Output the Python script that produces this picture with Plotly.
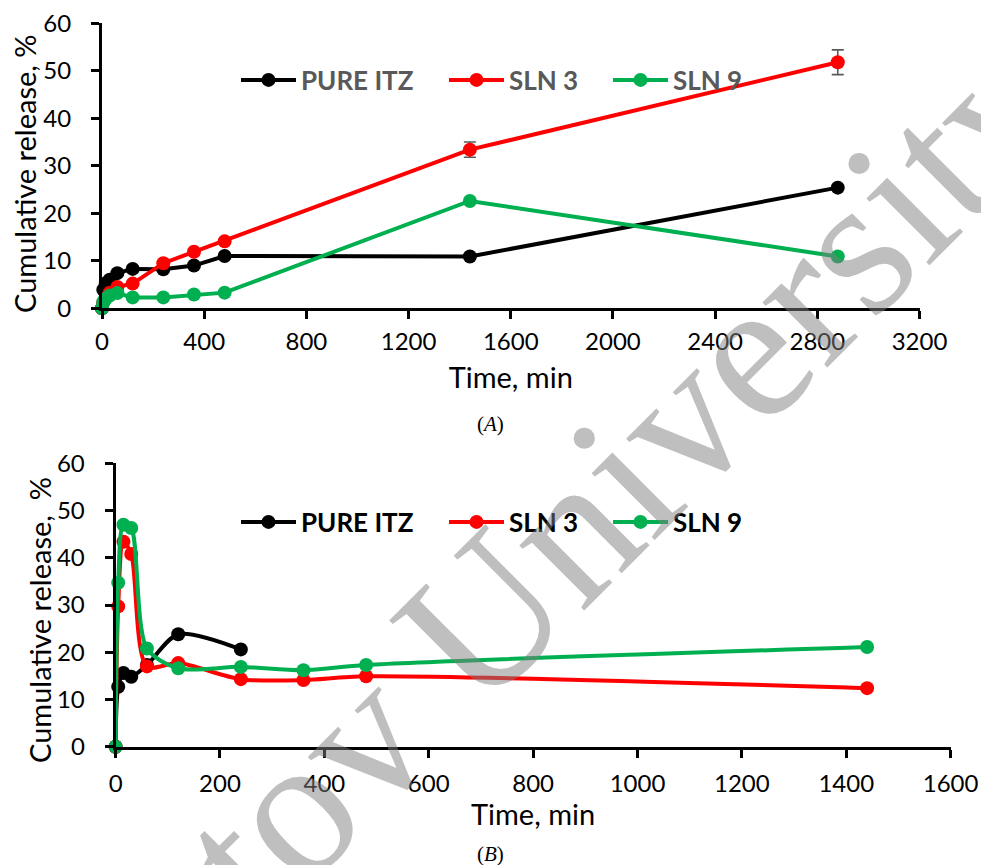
import plotly.graph_objects as go

# ---------------- data ----------------
# Panel A
time_a = [0, 5, 15, 30, 60, 120, 240, 360, 480, 1440, 2880]
pure_a = [0, 3.9, 5.3, 6.0, 7.4, 8.3, 8.2, 9.0, 11.0, 10.9, 25.4]
sln3_a = [0, 1.2, 2.2, 3.3, 4.5, 5.2, 9.5, 11.9, 14.1, 33.4, 51.8]
sln3_a_err = [0, 0, 0, 0, 0, 0, 0, 0, 0, 1.6, 2.6]
sln9_a = [0, 1.4, 2.0, 2.7, 3.2, 2.3, 2.3, 2.9, 3.3, 22.6, 10.9]

# Panel B
time_b = [0, 5, 15, 30, 60, 120, 240, 360, 480, 1440]
time_b_pure = [0, 5, 15, 30, 60, 120, 240]
pure_b = [0, 12.7, 15.6, 14.8, 17.3, 23.8, 20.6]
sln3_b = [0, 29.7, 43.4, 40.8, 17.0, 17.7, 14.3, 14.1, 14.9, 12.4]
sln9_b = [0, 34.7, 47.0, 46.3, 20.8, 16.6, 16.9, 16.2, 17.3, 21.1]

names = ["PURE ITZ", "SLN 3", "SLN 9"]
colors = ["#000000", "#FF0000", "#00B050"]

xticks_a = [0, 400, 800, 1200, 1600, 2000, 2400, 2800, 3200]
xticks_b = [0, 200, 400, 600, 800, 1000, 1200, 1400, 1600]
yticks = [0, 10, 20, 30, 40, 50, 60]

W, H = 981, 865
FONT = "Lato, 'Open Sans', sans-serif"

# legend item left positions (px) for each panel
leg_x_a = [236, 444, 608]
leg_x_b = [236, 444, 608]

fig = go.Figure()

# Panel A traces
for i, (nm, col, ys) in enumerate(zip(names, colors, [pure_a, sln3_a, sln9_a])):
    kw = {}
    if nm == "SLN 3":
        kw["error_y"] = dict(type="data", array=sln3_a_err, visible=True,
                             color="#595959", thickness=1.6, width=6)
    fig.add_trace(go.Scatter(
        x=time_a, y=ys, name=nm, mode="lines+markers",
        line=dict(color=col, width=4),
        marker=dict(color=col, size=14),
        cliponaxis=False, xaxis="x", yaxis="y",
        legend="legend" if i == 0 else f"legend{i + 1}", **kw))

# Panel B traces
for i, (nm, col, xs, ys) in enumerate(zip(names, colors, [time_b_pure, time_b, time_b],
                                          [pure_b, sln3_b, sln9_b])):
    fig.add_trace(go.Scatter(
        x=xs, y=ys, name=nm, mode="lines+markers",
        line=dict(color=col, width=4, shape="spline", smoothing=0.8),
        marker=dict(color=col, size=14),
        cliponaxis=False, xaxis="x2", yaxis="y2", legend=f"legend{i + 4}"))

axis_common = dict(showline=True, linecolor="black", linewidth=3, automargin=False,
                   ticks="outside", ticklen=8, tickwidth=2.5, tickcolor="black",
                   showgrid=False, zeroline=False,
                   tickfont=dict(family=FONT, size=24, color="black"))

title_font = dict(family=FONT, size=29, color="black")

legends = {}
for i in range(3):
    key = "legend" if i == 0 else f"legend{i + 1}"
    legends[key] = dict(orientation="h", x=leg_x_a[i] / W, y=1 - 80 / H,
                        xanchor="left", yanchor="middle", bgcolor="rgba(0,0,0,0)",
                        itemwidth=55,
                        font=dict(family=FONT, size=26, color="#595959", weight="bold"))
    legends[f"legend{i + 4}"] = dict(orientation="h", x=leg_x_b[i] / W, y=1 - 522 / H,
                                     xanchor="left", yanchor="middle", bgcolor="rgba(0,0,0,0)",
                                     itemwidth=55,
                                     font=dict(family=FONT, size=26, color="black", weight="bold"))

fig.update_layout(
    width=W, height=H,
    margin=dict(l=0, r=0, t=0, b=0),
    paper_bgcolor="white", plot_bgcolor="white",
    showlegend=True,
    xaxis=dict(domain=[102 / W, 919.5 / W], range=[0, 3200], tickvals=xticks_a,
               anchor="y", ticklabelstandoff=2,
               title=dict(text="Time, min", font=title_font, standoff=14),
               **axis_common),
    yaxis=dict(domain=[1 - 308.3 / H, 1 - 23.3 / H], range=[0, 60], tickvals=yticks,
               anchor="x", ticklabelstandoff=15, **axis_common),
    xaxis2=dict(domain=[115.6 / W, 950.6 / W], range=[0, 1600], tickvals=xticks_b,
                anchor="y2", ticklabelstandoff=5,
                title=dict(text="Time, min", font=title_font, standoff=6),
                **axis_common),
    yaxis2=dict(domain=[1 - 746.7 / H, 1 - 463.3 / H], range=[0, 60], tickvals=yticks,
                anchor="x2", ticklabelstandoff=15, **axis_common),
    annotations=[
        dict(text="Cumulative release, %", x=24 / W, y=1 - 174 / H, xref="paper", yref="paper",
             xanchor="center", yanchor="middle", textangle=-90,
             showarrow=False, font=title_font),
        dict(text="Cumulative release,  %", x=39 / W, y=1 - 620 / H, xref="paper", yref="paper",
             xanchor="center", yanchor="middle", textangle=-90,
             showarrow=False, font=title_font),
        dict(text="(<i>A</i>)", x=490 / W, y=1 - 424 / H, xref="paper", yref="paper",
             xanchor="center", yanchor="middle",
             showarrow=False, font=dict(family="Liberation Serif, serif", size=21, color="black")),
        dict(text="(<i>B</i>)", x=490 / W, y=1 - 854 / H, xref="paper", yref="paper",
             xanchor="center", yanchor="middle",
             showarrow=False, font=dict(family="Liberation Serif, serif", size=21, color="black")),
        dict(text="tov University", x=622 / W, y=1 - 478 / H, xref="paper", yref="paper",
             xanchor="center", yanchor="middle",
             showarrow=False, textangle=-45,
             font=dict(family="Liberation Serif, serif", size=200, color="rgba(128,128,128,0.5)")),
    ],
)
fig.update_layout(**legends)

fig.write_html("out.html")
